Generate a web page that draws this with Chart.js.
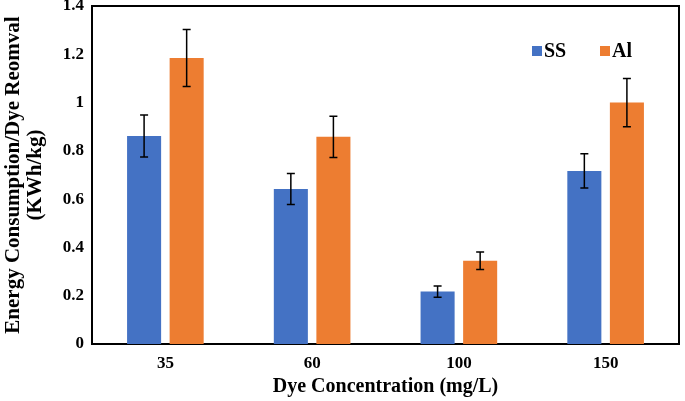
<!DOCTYPE html>
<html>
<head>
<meta charset="utf-8">
<script src="https://cdn.jsdelivr.net/npm/chart.js@4.4.0/dist/chart.umd.min.js"></script>
<style>
  html, body { margin: 0; padding: 0; background: #fff; }
  #wrap { width: 685px; height: 401px; }
</style>
</head>
<body>
<div id="wrap"><canvas id="chart" width="685" height="401"></canvas></div>
<script>
const concentrations = ['35', '60', '100', '150'];
const ssValues = [0.862, 0.642, 0.217, 0.717];
const ssErrors = [0.087, 0.064, 0.023, 0.071];
const alValues = [1.185, 0.858, 0.345, 1.0];
const alErrors = [0.118, 0.085, 0.036, 0.1];
const yMin = 0, yMax = 1.4, yStep = 0.2;

const serif = '"Liberation Serif", "Times New Roman", serif';
const errors = [ssErrors, alErrors];

// error bars drawn from the bar elements and the y scale
const errorBars = {
    id: 'errorBars',
    afterDatasetsDraw(chart) {
        const ctx = chart.ctx;
        const y = chart.scales.y;
        ctx.save();
        ctx.strokeStyle = '#000';
        ctx.lineWidth = 1.5;
        chart.data.datasets.forEach((ds, i) => {
            chart.getDatasetMeta(i).data.forEach((bar, j) => {
                const v = ds.data[j], e = errors[i][j];
                const top = y.getPixelForValue(v + e);
                const bot = y.getPixelForValue(v - e);
                ctx.beginPath();
                ctx.moveTo(bar.x, top); ctx.lineTo(bar.x, bot);
                ctx.moveTo(bar.x - 4, top); ctx.lineTo(bar.x + 4, top);
                ctx.moveTo(bar.x - 4, bot); ctx.lineTo(bar.x + 4, bot);
                ctx.stroke();
            });
        });
        ctx.restore();
    }
};

// top/right frame and the legend inside the plot
const frameAndLegend = {
    id: 'frameAndLegend',
    afterDraw(chart) {
        const {ctx, chartArea: a} = chart;
        ctx.save();
        ctx.strokeStyle = '#000';
        ctx.lineWidth = 2;
        ctx.beginPath();
        ctx.moveTo(a.left, a.top);
        ctx.lineTo(a.right, a.top);
        ctx.lineTo(a.right, a.bottom);
        ctx.stroke();

        ctx.font = 'bold 20px ' + serif;
        ctx.textBaseline = 'middle';
        const ly = a.top + 45;
        const items = [[a.right - 147, 0], [a.right - 79, 1]];
        items.forEach(([lx, i]) => {
            const ds = chart.data.datasets[i];
            ctx.fillStyle = ds.backgroundColor;
            ctx.fillRect(lx, ly - 5, 10, 10);
            ctx.fillStyle = '#000';
            ctx.fillText(ds.label, lx + 12, ly + 1);
        });
        ctx.restore();
    }
};

new Chart(document.getElementById('chart'), {
    type: 'bar',
    data: {
        labels: concentrations,
        datasets: [
            { label: 'SS', data: ssValues, backgroundColor: '#4472C4' },
            { label: 'Al', data: alValues, backgroundColor: '#ED7D31' }
        ]
    },
    options: {
        responsive: false,
        animation: false,
        devicePixelRatio: 1,
        categoryPercentage: 0.58,
        barPercentage: 0.8,
        layout: { padding: { top: 6, right: 6, left: 0, bottom: 0 } },
        plugins: { legend: { display: false }, tooltip: { enabled: false } },
        scales: {
            x: {
                grid: { display: false, drawTicks: false },
                border: { display: true, color: '#000', width: 2 },
                ticks: { color: '#000', padding: 9, font: { family: serif, size: 17, weight: 'bold' } },
                title: {
                    display: true,
                    text: 'Dye Concentration (mg/L)',
                    color: '#000',
                    padding: { top: 0, bottom: 3 },
                    font: { family: serif, size: 20, weight: 'bold', lineHeight: 1.1 }
                },
                afterFit(s) { s.height = 57; s.paddingLeft = 0; s.paddingRight = 0; }
            },
            y: {
                min: yMin,
                max: yMax,
                grid: { display: false, drawTicks: false },
                border: { display: true, color: '#000', width: 2 },
                ticks: {
                    stepSize: yStep,
                    color: '#000',
                    padding: 8,
                    font: { family: serif, size: 17, weight: 'bold' },
                    callback: v => String(Number(v.toFixed(1)))
                },
                title: {
                    display: true,
                    text: ['Energy Consumption/Dye Reomval', '(KWh/kg)'],
                    color: '#000',
                    padding: { top: 3, bottom: 0 },
                    font: { family: serif, size: 21, weight: 'bold', lineHeight: 1.05 }
                },
                afterFit(s) { s.width = 92; s.paddingTop = 0; s.paddingBottom = 0; }
            }
        }
    },
    plugins: [errorBars, frameAndLegend]
});
</script>
</body>
</html>
